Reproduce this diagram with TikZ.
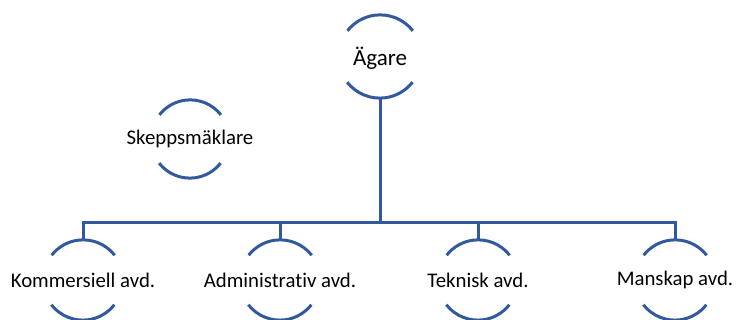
\documentclass[tikz,border=0pt]{standalone}
\usepackage{fontspec}
\setmainfont[Ligatures={NoCommon}]{Carlito}
\definecolor{linec}{RGB}{50,88,158}
\begin{document}
\begin{tikzpicture}[x=1pt,y=1pt,
  ring/.style={circle,minimum size=#1,inner sep=0pt,draw=none},
  lbl/.style={font=\fontsize{20.8}{24}\selectfont,text=black,inner sep=0pt},
  biglbl/.style={font=\fontsize{23}{26}\selectfont,text=black,inner sep=0pt},
  conn/.style={draw=linec,line width=3pt},
  arcl/.style={draw=linec,line width=3pt}]
\useasboundingbox (0,0) rectangle (737,320);
% circles (invisible nodes)
\node[ring=83pt] (top) at (380,263.5) {};
\node[ring=78pt] (sk) at (190,181) {};
\node[ring=80pt] (k) at (83,40) {};
\node[ring=80pt] (a) at (280,40) {};
\node[ring=80pt] (t) at (478,40) {};
\node[ring=80pt] (m) at (675,40) {};
% labels
\node[biglbl] (topl) at ([yshift=-1.5pt]top.center) {Ägare};
\node[lbl] (skl) at (sk) {Skeppsmäklare};
\node[lbl] (kl) at (k) {Kommersiell avd.};
\node[lbl] (al) at (a) {Administrativ avd.};
\node[lbl] (tl) at (t) {Teknisk avd.};
\node[lbl] (ml) at (m) {Manskap avd.};
% arcs
\foreach \n/\r in {top/41.5,sk/39,k/40,a/40,t/40,m/40}{
  \draw[arcl] (\n.38) arc[start angle=38,end angle=142,radius=\r];
  \draw[arcl] (\n.218) arc[start angle=218,end angle=322,radius=\r];
}
% connectors
\coordinate (bus) at (380,97);
\draw[conn] (top.south) -- (top.south |- bus);
\draw[conn,line cap=rect] (k.north |- bus) -- (m.north |- bus);
\foreach \n in {k,a,t,m}{
  \draw[conn] (\n.north |- bus) -- (\n.north);
}
\end{tikzpicture}
\end{document}
